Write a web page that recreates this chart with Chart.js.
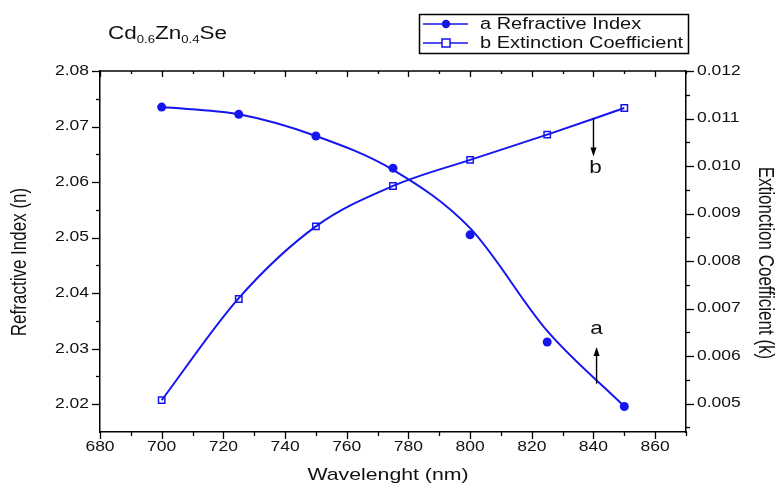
<!DOCTYPE html>
<html><head><meta charset="utf-8">
<script src="https://cdn.jsdelivr.net/npm/chart.js@4"></script>
<style>html,body{margin:0;padding:0;background:#fff}#wrap{width:782px;height:485px}</style>
</head><body><div id="wrap"><canvas id="c" width="782" height="485"></canvas></div>
<script>
// ---- data ----
const wavelengths = [700, 725, 750, 775, 800, 825, 850];
const refractiveIndex = [2.0735, 2.0722, 2.0683, 2.0625, 2.0505, 2.0312, 2.0196];
const refractiveFit = [2.0735, 2.0722, 2.0683, 2.0622, 2.0517, 2.0332, 2.0196];
const extinction = [0.00507, 0.00720, 0.00873, 0.00958, 0.01013, 0.01066, 0.01122];
const extinctionFit = [0.00507, 0.00722, 0.00873, 0.00958, 0.01013, 0.01066, 0.01122];
const xTicks = [680, 700, 720, 740, 760, 780, 800, 820, 840, 860];
const nTicks = [2.02, 2.03, 2.04, 2.05, 2.06, 2.07, 2.08];
const kTicks = [0.005, 0.006, 0.007, 0.008, 0.009, 0.010, 0.011, 0.012];
const legendLabels = ['a Refractive Index', 'b Extinction Coefficient'];

const BLUE = '#1515f0';
const SX = 1.25;
const FONT = '"Liberation Sans", Arial, sans-serif';

function pts(xs, ys){ return xs.map((x,i)=>({x:x, y:ys[i]})); }

function sText(ctx, str, x, y, size, align, base, rot){
  ctx.save();
  ctx.font = size + 'px ' + FONT;
  ctx.fillStyle = '#111';
  ctx.textAlign = align; ctx.textBaseline = base;
  ctx.translate(x, y); ctx.scale(SX, 1);
  if (rot) ctx.rotate(rot);
  ctx.fillText(str, 0, 0);
  ctx.restore();
}

const decor = {
  id: 'decor',
  afterDraw(chart){
    const ctx = chart.ctx, a = chart.chartArea;
    const xs = chart.scales.x, yl = chart.scales.y, yr = chart.scales.y1;
    ctx.save();
    ctx.strokeStyle = '#000'; ctx.lineWidth = 1.5;
    ctx.beginPath(); ctx.moveTo(a.left, a.top); ctx.lineTo(a.right, a.top); ctx.stroke();
    ctx.lineWidth = 1.3;
    for (let v = xs.min; v <= xs.max + 1e-9; v += 10){
      const px = Math.round(xs.getPixelForValue(v)) + 0.5;
      const major = xTicks.includes(v);
      const L = major ? 7 : 4;
      ctx.beginPath();
      ctx.moveTo(px, a.bottom); ctx.lineTo(px, a.bottom + L);
      ctx.moveTo(px, a.top); ctx.lineTo(px, a.top + (major ? 6 : 3));
      ctx.stroke();
    }
    for (let i = 0; i < nTicks.length; i++){
      const py = Math.round(yl.getPixelForValue(nTicks[i])) + 0.5;
      ctx.beginPath(); ctx.moveTo(a.left, py); ctx.lineTo(a.left - 8, py); ctx.stroke();
      const pm = Math.round(yl.getPixelForValue(nTicks[i] - 0.005)) + 0.5;
      if (pm < a.bottom) { ctx.beginPath(); ctx.moveTo(a.left, pm); ctx.lineTo(a.left - 4, pm); ctx.stroke(); }
    }
    for (let i = 0; i < kTicks.length; i++){
      const py = Math.round(yr.getPixelForValue(kTicks[i])) + 0.5;
      ctx.beginPath(); ctx.moveTo(a.right, py); ctx.lineTo(a.right + 8, py); ctx.stroke();
      const pm = Math.round(yr.getPixelForValue(kTicks[i] - 0.0005)) + 0.5;
      if (pm < a.bottom) { ctx.beginPath(); ctx.moveTo(a.right, pm); ctx.lineTo(a.right + 4, pm); ctx.stroke(); }
    }
    ctx.restore();
    xTicks.forEach(v => sText(ctx, String(v), xs.getPixelForValue(v), a.bottom + 15, 14, 'center', 'middle'));
    nTicks.forEach(v => sText(ctx, v.toFixed(2), a.left - 11, yl.getPixelForValue(v), 14, 'right', 'middle'));
    kTicks.forEach(v => sText(ctx, v.toFixed(3), a.right + 11, yr.getPixelForValue(v), 14, 'left', 'middle'));
    sText(ctx, 'Wavelenght (nm)', (a.left + a.right) / 2 - 5, 475, 17, 'center', 'middle');
    sText(ctx, 'Refractive Index (n)', 20, 262, 17, 'center', 'middle', -Math.PI / 2);
    sText(ctx, 'Extionction Coefficient (k)', 765, 263, 17, 'center', 'middle', Math.PI / 2);
    ctx.save();
    ctx.fillStyle = '#111'; ctx.textBaseline = 'alphabetic'; ctx.textAlign = 'left';
    ctx.translate(108, 39); ctx.scale(SX, 1);
    let cx = 0;
    const parts = [['Cd', 18, 0], ['0.6', 10.5, 4], ['Zn', 18, 0], ['0.4', 10.5, 4], ['Se', 18, 0]];
    parts.forEach(p => { ctx.font = p[1] + 'px ' + FONT; ctx.fillText(p[0], cx, p[2]); cx += ctx.measureText(p[0]).width; });
    ctx.restore();
    ctx.save();
    ctx.strokeStyle = '#000'; ctx.lineWidth = 1.5;
    ctx.strokeRect(419.5, 14.5, 269, 39);
    const rows = [24, 43];
    rows.forEach((ry, i) => {
      ctx.strokeStyle = BLUE; ctx.lineWidth = 1.5;
      ctx.beginPath(); ctx.moveTo(423, ry); ctx.lineTo(468, ry); ctx.stroke();
      if (i === 0){ ctx.fillStyle = BLUE; ctx.beginPath(); ctx.arc(446, ry, 4.2, 0, Math.PI * 2); ctx.fill(); }
      else { ctx.fillStyle = '#fff'; ctx.fillRect(442, ry - 4, 8, 8); ctx.strokeRect(442, ry - 4, 8, 8); }
      sText(ctx, legendLabels[i], 480, ry + 1, 16, 'left', 'middle');
    });
    ctx.restore();
    function arrow(x, y0, y1){
      ctx.save(); ctx.strokeStyle = '#000'; ctx.fillStyle = '#000'; ctx.lineWidth = 1.4;
      const dir = Math.sign(y1 - y0);
      ctx.beginPath(); ctx.moveTo(x, y0); ctx.lineTo(x, y1 - dir * 6); ctx.stroke();
      ctx.beginPath(); ctx.moveTo(x, y1); ctx.lineTo(x - 3, y1 - dir * 9); ctx.lineTo(x + 3, y1 - dir * 9); ctx.closePath(); ctx.fill();
      ctx.restore();
    }
    const bx = xs.getPixelForValue(840);
    arrow(bx, yr.getPixelForValue(0.01100), yr.getPixelForValue(0.01020));
    sText(ctx, 'b', bx + 2, yr.getPixelForValue(0.00995), 18, 'center', 'middle');
    const ax = xs.getPixelForValue(841);
    arrow(ax, yl.getPixelForValue(2.0237), yl.getPixelForValue(2.0303));
    sText(ctx, 'a', ax, yl.getPixelForValue(2.0336), 18, 'center', 'middle');
  }
};

new Chart(document.getElementById('c'), {
  type: 'scatter',
  data: {
    datasets: [
      { label: 'a fit', data: pts(wavelengths, refractiveFit), yAxisID: 'y', showLine: true,
        borderColor: BLUE, borderWidth: 2, pointRadius: 0, cubicInterpolationMode: 'monotone', fill: false },
      { label: legendLabels[0], data: pts(wavelengths, refractiveIndex), yAxisID: 'y', showLine: false,
        pointStyle: 'circle', pointRadius: 4.5, backgroundColor: BLUE, borderColor: BLUE, borderWidth: 0 },
      { label: 'b fit', data: pts(wavelengths, extinctionFit), yAxisID: 'y1', showLine: true,
        borderColor: BLUE, borderWidth: 2, pointRadius: 0, cubicInterpolationMode: 'monotone', fill: false },
      { label: legendLabels[1], data: pts(wavelengths, extinction), yAxisID: 'y1', showLine: false,
        pointStyle: 'rect', pointRadius: 4.5, backgroundColor: '#fff', borderColor: BLUE, borderWidth: 1.5 }
    ]
  },
  options: {
    responsive: false, animation: false, devicePixelRatio: 1,
    layout: { padding: { top: 71, left: 0, right: 0, bottom: 0 } },
    plugins: { legend: { display: false }, tooltip: { enabled: false } },
    scales: {
      x: { type: 'linear', min: 680, max: 870, position: 'bottom',
        grid: { display: false }, ticks: { display: false },
        border: { display: true, color: '#000', width: 1.5 },
        afterFit: s => { s.height = 53; } },
      y: { type: 'linear', min: 2.015, max: 2.08, position: 'left',
        grid: { display: false }, ticks: { display: false },
        border: { display: true, color: '#000', width: 1.5 },
        afterFit: s => { s.width = 100; } },
      y1: { type: 'linear', min: 0.0044, max: 0.012, position: 'right',
        grid: { display: false }, ticks: { display: false },
        border: { display: true, color: '#000', width: 1.5 },
        afterFit: s => { s.width = 96; } }
    }
  },
  plugins: [decor]
});
</script>
</body></html>
